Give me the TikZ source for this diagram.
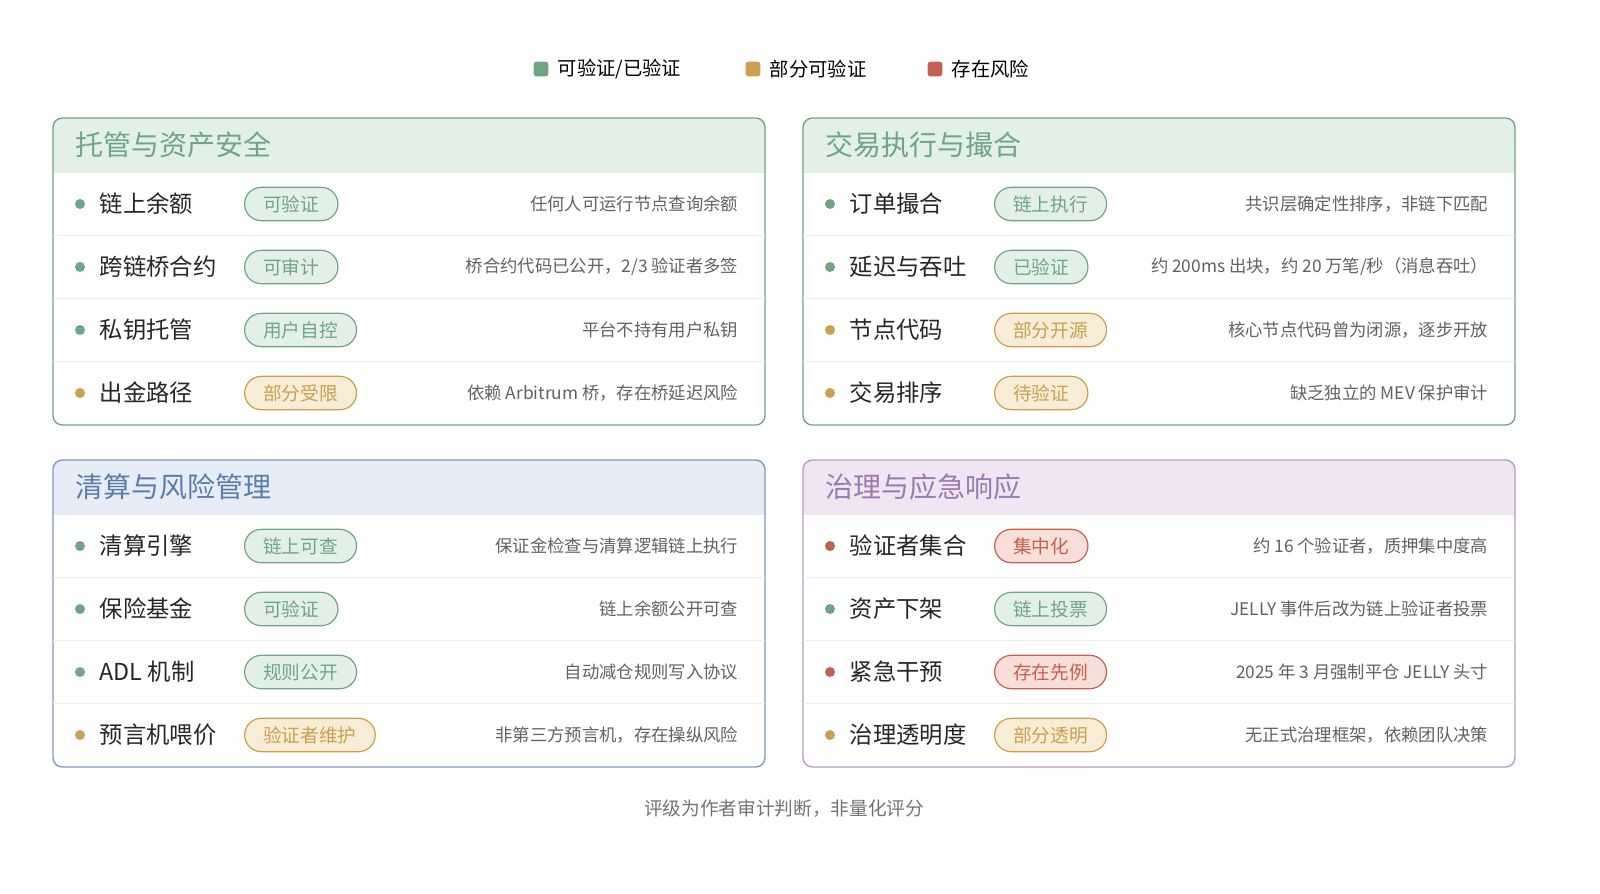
\documentclass[tikz,border=0pt]{standalone}
\usepackage{fontspec}
\setmainfont{Noto Sans CJK SC}
\usetikzlibrary{positioning}
\definecolor{okc}{HTML}{6FA585}
\definecolor{okf}{HTML}{E3F0E8}
\definecolor{midc}{HTML}{C9A04E}
\definecolor{midf}{HTML}{F7ECD5}
\definecolor{badc}{HTML}{C4604F}
\definecolor{badf}{HTML}{F6DED9}
\definecolor{bluec}{HTML}{7F96C0}
\definecolor{bluef}{HTML}{E6EDF6}
\definecolor{bluet}{HTML}{5B7DAA}
\definecolor{purc}{HTML}{B69AC4}
\definecolor{purf}{HTML}{EFE6F2}
\definecolor{purt}{HTML}{9B7BAE}
\tikzset{
  dot/.style = {circle, fill=#1, inner sep=0pt, minimum size=7.5pt},
  lab/.style = {anchor=west, font=\fontsize{17.5}{19}\selectfont, text=black!85},
  badge/.style = {anchor=west, rounded corners=12.5pt, draw=#1c, fill=#1f, text=#1c, line width=0.9pt,
                  minimum height=25pt, inner xsep=14pt, inner ysep=0pt, font=\fontsize{14}{15}\selectfont},
  desc/.style = {anchor=east, font=\fontsize{13}{15}\selectfont, text=black!62},
  sep/.style = {draw=black!7, line width=0.6pt},
  title/.style = {anchor=west, font=\fontsize{21}{24}\selectfont}
}
% x0, y, status, label, badge, description
\newcommand{\ratingrow}[6]{
  \node[dot=#3c] at (#1+27,#2) {};
  \node[lab] at (#1+42,#2) {#4};
  \node[badge=#3] at (#1+191,#2) {#5};
  \node[desc] at (#1+690,#2) {#6};
}
% x0, y0, border, fill, title colour, title
\newcommand{\ratingpanel}[6]{
  \begin{scope}
    \clip[rounded corners=7pt] (#1,#2) rectangle ++(712,307);
    \fill[#4] (#1,#2) rectangle ++(712,55);
  \end{scope}
  \draw[#3, line width=1pt, rounded corners=7pt] (#1,#2) rectangle ++(712,307);
  \node[title, text=#5] at (#1+18,#2+27) {#6};
  \foreach \d in {117,180,243}
    \draw[sep] (#1,#2+\d) -- ++(712,0);
}
\begin{document}
\begin{tikzpicture}[x=0.75pt, y=-0.75pt]
\useasboundingbox (0,0) rectangle (1600,893);
% legend
\node[fill=okc, rounded corners=2pt, minimum size=11pt, inner sep=0pt] (lg1) at (541,69) {};
\node[anchor=west, font=\fontsize{14.5}{16}\selectfont] (lt1) at (553,69) {可验证/已验证};
\node[fill=midc, rounded corners=2pt, minimum size=11pt, inner sep=0pt] (lg2) at (753,69) {};
\node[anchor=west, font=\fontsize{14.5}{16}\selectfont] (lt2) at (765,69) {部分可验证};
\node[fill=badc, rounded corners=2pt, minimum size=11pt, inner sep=0pt] (lg3) at (935,69) {};
\node[anchor=west, font=\fontsize{14.5}{16}\selectfont] (lt3) at (947,69) {存在风险};
% panels
\ratingpanel{53}{118}{okc}{okf}{okc}{托管与资产安全}
\ratingpanel{803}{118}{okc}{okf}{okc}{交易执行与撮合}
\ratingpanel{53}{460}{bluec}{bluef}{bluet}{清算与风险管理}
\ratingpanel{803}{460}{purc}{purf}{purt}{治理与应急响应}
% custody
\ratingrow{53}{204}{ok}{链上余额}{可验证}{任何人可运行节点查询余额}
\ratingrow{53}{267}{ok}{跨链桥合约}{可审计}{桥合约代码已公开，2/3 验证者多签}
\ratingrow{53}{330}{ok}{私钥托管}{用户自控}{平台不持有用户私钥}
\ratingrow{53}{393}{mid}{出金路径}{部分受限}{依赖 Arbitrum 桥，存在桥延迟风险}
% execution
\ratingrow{803}{204}{ok}{订单撮合}{链上执行}{共识层确定性排序，非链下匹配}
\ratingrow{803}{267}{ok}{延迟与吞吐}{已验证}{约 200ms 出块，约 20 万笔/秒（消息吞吐）}
\ratingrow{803}{330}{mid}{节点代码}{部分开源}{核心节点代码曾为闭源，逐步开放}
\ratingrow{803}{393}{mid}{交易排序}{待验证}{缺乏独立的 MEV 保护审计}
% liquidation
\ratingrow{53}{546}{ok}{清算引擎}{链上可查}{保证金检查与清算逻辑链上执行}
\ratingrow{53}{609}{ok}{保险基金}{可验证}{链上余额公开可查}
\ratingrow{53}{672}{ok}{ADL 机制}{规则公开}{自动减仓规则写入协议}
\ratingrow{53}{735}{mid}{预言机喂价}{验证者维护}{非第三方预言机，存在操纵风险}
% governance
\ratingrow{803}{546}{bad}{验证者集合}{集中化}{约 16 个验证者，质押集中度高}
\ratingrow{803}{609}{ok}{资产下架}{链上投票}{JELLY 事件后改为链上验证者投票}
\ratingrow{803}{672}{bad}{紧急干预}{存在先例}{2025 年 3 月强制平仓 JELLY 头寸}
\ratingrow{803}{735}{mid}{治理透明度}{部分透明}{无正式治理框架，依赖团队决策}
% footer
\node[font=\fontsize{14}{15}\selectfont, text=black!55] (note) at (784,809) {评级为作者审计判断，非量化评分};
\end{tikzpicture}
\end{document}
